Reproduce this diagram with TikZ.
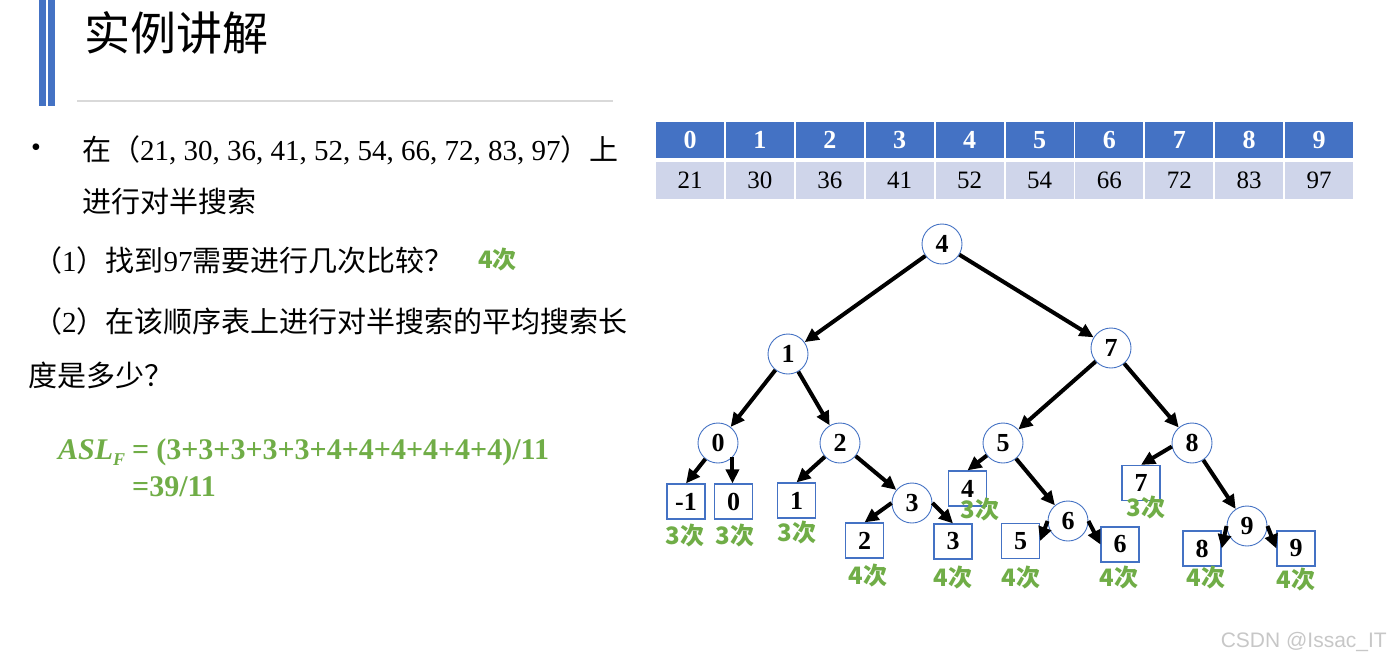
\documentclass[tikz,border=0pt]{standalone}
\usepackage{fontspec}
\setmainfont{Liberation Serif}
\newfontfamily\cjk{Noto Sans CJK SC}
\newfontfamily\sansf{Liberation Sans}
\usetikzlibrary{arrows.meta}
\definecolor{ublue}{HTML}{4472C4}
\definecolor{ulight}{HTML}{CFD5EA}
\definecolor{ugreen}{HTML}{70AD47}
\definecolor{uline}{HTML}{D9D9D9}
\tikzset{
  circ/.style={circle, draw=ublue, line width=0.9pt, fill=white, minimum size=40pt, inner sep=0pt, font=\fontsize{26}{26}\selectfont\bfseries},
  leaf/.style={rectangle, draw=ublue, line width=1.2pt, fill=white, minimum width=38pt, minimum height=35pt, inner sep=0pt, font=\fontsize{26}{26}\selectfont\bfseries},
  cnt/.style={text=ugreen, inner sep=0pt, font=\cjk\bfseries\fontsize{24}{24}\selectfont},
  arr/.style={-{Triangle[length=14pt,width=13pt]}, line width=4pt},
  hcell/.style={fill=ublue, minimum width=68pt, minimum height=36pt, inner sep=0pt, text=white, font=\fontsize{26}{26}\selectfont\bfseries},
  vcell/.style={fill=ulight, minimum width=68pt, minimum height=37pt, inner sep=0pt, font=\fontsize{25}{25}\selectfont},
  body/.style={anchor=west, inner sep=0pt, font=\fontsize{29}{29}\selectfont},
  formula/.style={anchor=west, inner sep=0pt, text=ugreen, font=\fontsize{30}{30}\selectfont\bfseries}
}
\begin{document}
\begin{tikzpicture}[x=1pt,y=-1pt]
\useasboundingbox (0,0) rectangle (1393,665);
% header decoration
\fill[ublue] (39,0) rectangle (46,106);
\fill[ublue] (48,0) rectangle (55,106);
\draw[uline, line width=1.5pt] (77,101) -- (613,101);
\node[anchor=west, inner sep=0pt, font=\cjk\fontsize{46}{46}\selectfont] (title) at (84,33) {实例讲解};
% body text
\node[anchor=center, inner sep=0pt, font=\fontsize{28}{28}\selectfont] (bul) at (36,150) {•};
\node[body] (t1) at (82,150) {{\cjk 在（}21, 30, 36, 41, 52, 54, 66, 72, 83, 97{\cjk ）上}};
\node[body] (t2) at (82,202) {\cjk 进行对半搜索};
\node[body] (t3) at (33,260) {{\cjk （}1{\cjk ）找到}97{\cjk 需要进行几次比较？}};
\node[anchor=west, text=ugreen, inner sep=0pt, font=\cjk\bfseries\fontsize{24}{24}\selectfont] (a1) at (478,260) {4次};
\node[body] (t4) at (33,321) {{\cjk （}2{\cjk ）在该顺序表上进行对半搜索的平均搜索长}};
\node[body] (t5) at (28,375) {\cjk 度是多少？};
\node[formula] (f1) at (58,452) {\textit{ASL}{\fontsize{18}{18}\selectfont\raisebox{-6pt}{\textit{F}}}\hspace{7pt}=\hspace{7pt}(3+3+3+3+3+4+4+4+4+4+4)/11};
\node[formula] (f2) at (132,487) {=39/11};
% table
\foreach \i/\v in {0/21,1/30,2/36,3/41,4/52,5/54,6/66,7/72,8/83,9/97}{
  \node[hcell] (h\i) at ({690+69.9*\i},140) {\i};
  \node[vcell] (v\i) at ({690+69.9*\i},180.5) {\v};
}
% tree internal nodes
\node[circ] (c4) at (942,244) {4};
\node[circ] (c1) at (788,354) {1};
\node[circ] (c7) at (1111,348) {7};
\node[circ] (c0) at (718,443) {0};
\node[circ] (c2) at (840,443) {2};
\node[circ] (c5) at (1003,443) {5};
\node[circ] (c8) at (1192,443) {8};
\node[circ] (c3) at (912,503) {3};
\node[circ] (c6) at (1068,521) {6};
\node[circ] (c9) at (1247,526) {9};
% leaves
\node[leaf] (bm1) at (686,501.5) {-1};
\node[leaf] (b0) at (733.5,501.5) {0};
\node[leaf] (b1) at (796.5,500.5) {1};
\node[leaf] (b2) at (864.5,540.5) {2};
\node[leaf] (b3) at (953,541.5) {3};
\node[leaf] (b4) at (967.5,488.5) {4};
\node[leaf] (b7) at (1141,483) {7};
\node[leaf] (b5) at (1020.5,541) {5};
\node[leaf] (b6) at (1120,544.5) {6};
\node[leaf] (b8) at (1202,548.5) {8};
\node[leaf] (b9) at (1296,548.5) {9};
% counts
\node[cnt] (lm1) at (685,536) {3次};
\node[cnt] (l0) at (735,536) {3次};
\node[cnt] (l1) at (797,533) {3次};
\node[cnt] (l2) at (868,576) {4次};
\node[cnt] (l3) at (953,578) {4次};
\node[cnt] (l4) at (980,510) {3次};
\node[cnt] (l7) at (1146,508) {3次};
\node[cnt] (l5) at (1021,578) {4次};
\node[cnt] (l6) at (1119,578) {4次};
\node[cnt] (l8) at (1206,578) {4次};
\node[cnt] (l9) at (1296,580) {4次};
% arrows
\draw[arr] (c4) -- (c1);
\draw[arr] (c4) -- (c7);
\draw[arr] (c1) -- (c0);
\draw[arr] (c1) -- (c2);
\draw[arr] (c7) -- (c5);
\draw[arr] (c7) -- (c8);
\draw[arr] (c0) -- (bm1.north);
\draw[arr] (c0.-45) -- (c0.-45 |- b0.north);
\draw[arr] (c2) -- (b1.north);
\draw[arr] (c2) -- (c3);
\draw[arr] (c3.west) -- (b2.north);
\draw[arr] (c3.east) -- (b3.north);
\draw[arr] (c5) -- (b4.north);
\draw[arr] (c5) -- (c6);
\draw[arr] (c6.west) -- (b5.east);
\draw[arr] (c6.east) -- (b6.west);
\draw[arr] (c8.190) -- (b7.north);
\draw[arr] (c8) -- (c9);
\draw[arr] (c9.west) -- (b8.east);
\draw[arr] (c9.east) -- (b9.west);
% watermark
\node[anchor=east, inner sep=0pt, text=black!22, font=\sansf\fontsize{21}{21}\selectfont] (wm) at (1387,642) {CSDN @Issac\_IT};
\end{tikzpicture}
\end{document}
